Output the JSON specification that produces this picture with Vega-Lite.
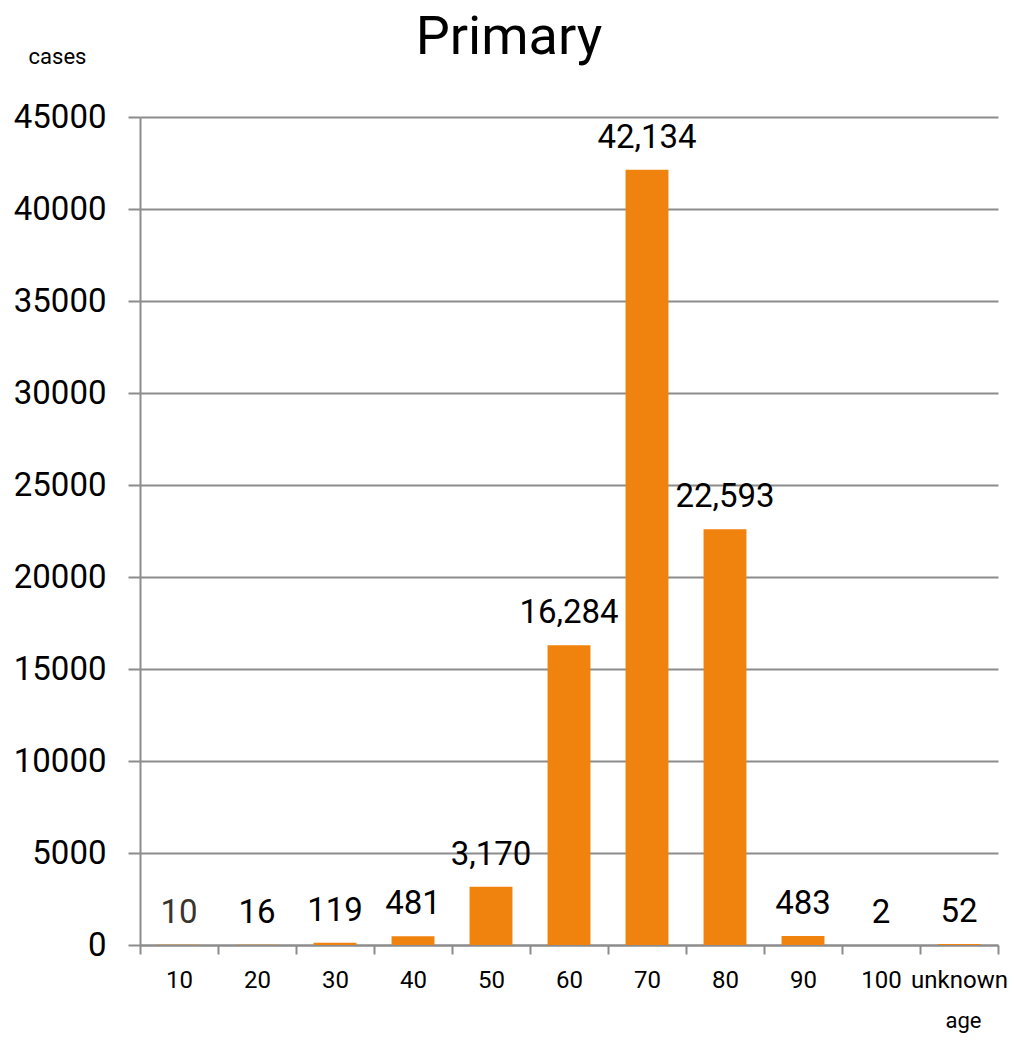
{
  "$schema": "https://vega.github.io/schema/vega-lite/v6.json",
  "width": 858,
  "height": 828,
  "autosize": {"type": "none"},
  "padding": {"left": 140, "top": 117, "right": 16, "bottom": 117},
  "background": "white",
  "config": {"font": "Roboto", "view": {"stroke": null}},
  "title": {
    "text": "Primary",
    "fontSize": 54,
    "fontWeight": "normal",
    "color": "#000000",
    "anchor": "middle",
    "frame": "group",
    "dx": -60,
    "baseline": "alphabetic",
    "offset": -63
  },
  "data": {
    "values": [
      {"age": "10", "cases": 10},
      {"age": "20", "cases": 16},
      {"age": "30", "cases": 119},
      {"age": "40", "cases": 481},
      {"age": "50", "cases": 3170},
      {"age": "60", "cases": 16284},
      {"age": "70", "cases": 42134},
      {"age": "80", "cases": 22593},
      {"age": "90", "cases": 483},
      {"age": "100", "cases": 2},
      {"age": "unknown", "cases": 52}
    ]
  },
  "encoding": {
    "x": {
      "field": "age",
      "type": "nominal",
      "sort": null,
      "scale": {"paddingInner": 0, "paddingOuter": 0},
      "axis": {
        "title": "age",
        "titleFontSize": 22,
        "titleFontWeight": "normal",
        "titleColor": "#000000",
        "titleX": 823,
        "titleY": 82,
        "titleAlign": "center",
        "titleBaseline": "alphabetic",
        "labelAngle": 0,
        "labelFontSize": 24,
        "labelColor": "#000000",
        "labelPadding": 14,
        "tickBand": "extent",
        "tickSize": 9,
        "tickWidth": 2,
        "tickColor": "#8c8c8c",
        "domainColor": "#8c8c8c",
        "domainWidth": 2,
        "grid": false
      }
    },
    "y": {
      "field": "cases",
      "type": "quantitative",
      "scale": {"domain": [0, 45000], "nice": false},
      "axis": {
        "title": "cases",
        "titleFontSize": 22,
        "titleFontWeight": "normal",
        "titleColor": "#000000",
        "titleAngle": 0,
        "titleX": -83,
        "titleY": -54,
        "titleAlign": "center",
        "titleBaseline": "alphabetic",
        "values": [0, 5000, 10000, 15000, 20000, 25000, 30000, 35000, 40000, 45000],
        "format": "d",
        "labelFontSize": 33,
        "labelColor": "#000000",
        "labelPadding": 22,
        "tickSize": 12,
        "tickWidth": 2,
        "tickColor": "#8c8c8c",
        "domainColor": "#8c8c8c",
        "domainWidth": 2,
        "grid": true,
        "gridColor": "#8c8c8c",
        "gridWidth": 2
      }
    }
  },
  "layer": [
    {"mark": {"type": "bar", "color": "#F0820E", "width": {"band": 0.55}}},
    {
      "mark": {"type": "text", "dy": -22, "baseline": "alphabetic", "fontSize": 33},
      "encoding": {
        "text": {"field": "cases", "type": "quantitative", "format": ","},
        "color": {
          "condition": {"test": "datum.age === '10'", "value": "#3a342c"},
          "value": "#000000"
        }
      }
    }
  ]
}
